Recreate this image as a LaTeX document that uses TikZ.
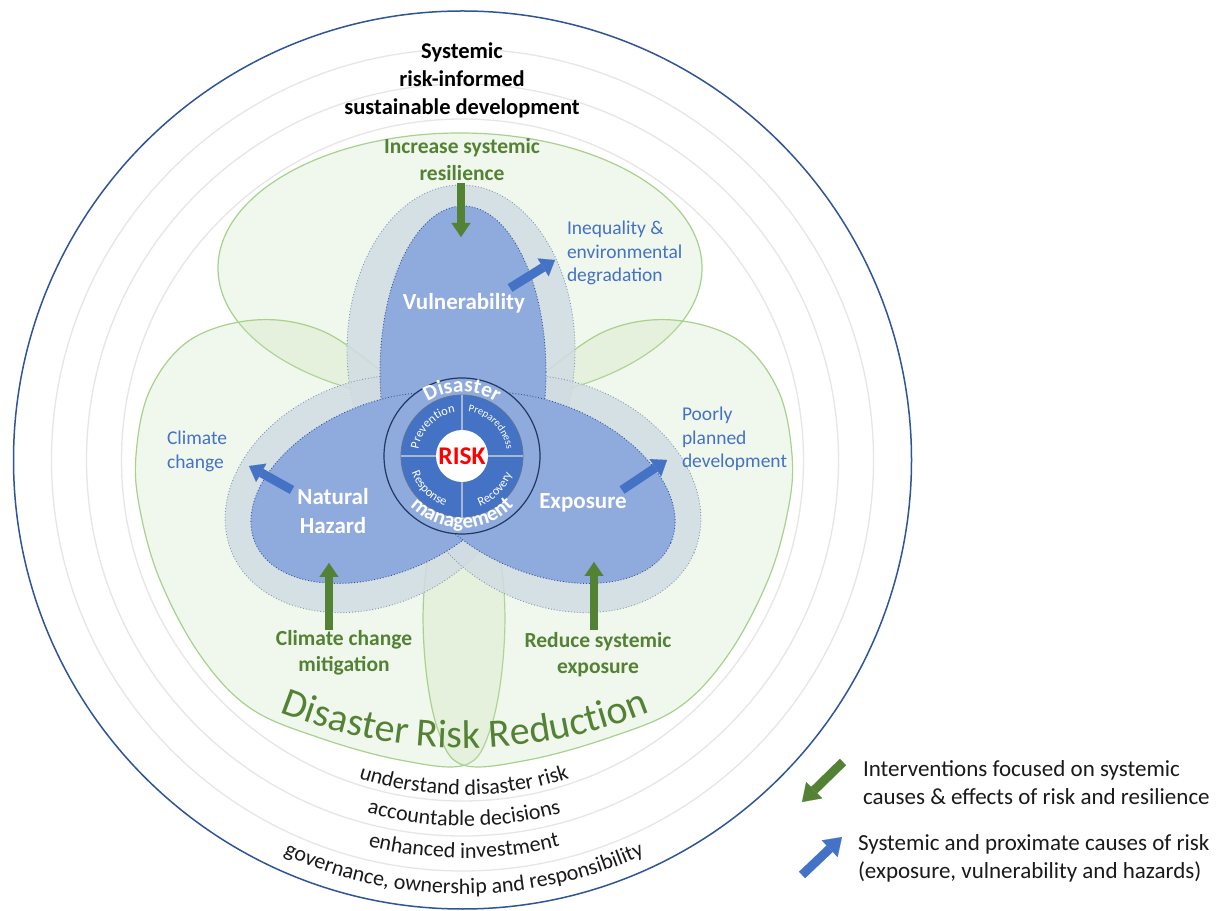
\documentclass[tikz,border=0pt]{standalone}
\usepackage{fontspec}
\setmainfont{Carlito}
\usetikzlibrary{arrows.meta,decorations.text,calc}
\definecolor{ringblue}{HTML}{2F5597}
\definecolor{ringgray}{HTML}{E6E6E6}
\definecolor{lobefill}{HTML}{C5E0B4}
\definecolor{lobeline}{HTML}{A9D18E}
\definecolor{slate}{HTML}{D0DCE2}
\definecolor{slateline}{HTML}{8497B0}
\definecolor{petal}{HTML}{8FAADC}
\definecolor{petalline}{HTML}{2F5597}
\definecolor{midblue}{HTML}{4472C4}
\definecolor{navy}{HTML}{203864}
\definecolor{dgreen}{HTML}{548235}
\definecolor{lblue}{HTML}{4472C4}
\definecolor{riskred}{HTML}{FF0000}
\definecolor{divider}{HTML}{A9B6CF}
\definecolor{darktext}{HTML}{1A1A1A}
\newcommand{\myfs}[2]{\fontsize{#1}{#2}\selectfont}
\begin{document}
\begin{tikzpicture}[x=1pt,y=1pt,
  lobe/.style={fill=lobefill, fill opacity=0.25, draw=lobeline, draw opacity=1, line width=1.2pt},
  slatesty/.style={fill=slate, fill opacity=0.85, draw=slateline, draw opacity=1, dotted, line width=0.9pt},
  petalsty/.style={fill=petal, draw=petalline, dotted, line width=0.9pt},
  greenarrow/.style={draw=dgreen, line width=7.5pt, -{Triangle[length=14pt,width=19pt,line width=0.1pt]}},
  bluearrow/.style={draw=lblue, line width=9pt, -{Triangle[length=14pt,width=21pt,line width=0.1pt]}},
  lbl/.style={inner sep=0pt, outer sep=0pt},
  bluelbl/.style={lbl, text=lblue, align=left, anchor=west, font=\myfs{19.5}{23.5}},
  whitelbl/.style={lbl, text=white, align=center, font=\bfseries\myfs{23}{29}},
  greenlbl/.style={lbl, text=dgreen, align=center, font=\bfseries\myfs{21.5}{26.5}},
  legendlbl/.style={lbl, text=darktext, align=left, anchor=west, font=\myfs{23}{28.5}}
]
\useasboundingbox (0,0) rectangle (1217,910);
\fill[white] (0,0) rectangle (1217,910);

% concentric rings
\coordinate (M) at (462.5,450);
\foreach \r in {341,376,411} \draw[ringgray, line width=1.3pt] (M) circle[radius=\r];
\draw[ringblue, line width=1.5pt] (M) circle[radius=449];

% green lobes
\path[lobe] (460,642) ellipse[x radius=242, y radius=135];
\path[lobe] plot[smooth cycle, tension=0.6] coordinates {(255,590) (320,580) (380,540) (440,490) (485,420) (503,330) (503,250) (490,180) (465,145) (400,150) (320,172) (250,202) (200,255) (160,330) (140,400) (136,455) (150,520) (190,570)};
\path[lobe, shift={(928,0)}, xscale=-1] plot[smooth cycle, tension=0.6] coordinates {(255,590) (320,580) (380,540) (440,490) (485,420) (503,330) (503,250) (490,180) (465,145) (400,150) (320,172) (250,202) (200,255) (160,330) (140,400) (136,455) (150,520) (190,570)};

% slate petals
\path[slatesty] (461,560) ellipse[x radius=114, y radius=165];
\path[slatesty, rotate around={23:(370,416)}] (370,416) ellipse[x radius=150, y radius=112];
\path[slatesty, rotate around={-23:(556,416)}] (556,416) ellipse[x radius=150, y radius=112];

% blue petals
\path[petalsty] (463,538) ellipse[x radius=83, y radius=166];
\path[petalsty, rotate around={23:(384,422)}] (384,422) ellipse[x radius=140, y radius=85];
\path[petalsty, rotate around={-23:(542,422)}] (542,422) ellipse[x radius=140, y radius=85];

% centre
\coordinate (C) at (462,454);
\filldraw[fill=petal, draw=navy, line width=1.2pt] (C) circle[radius=78];
\filldraw[fill=midblue, draw=navy!70, line width=0.8pt] (C) circle[radius=61];
\draw[divider, line width=2pt] ([shift={(0:61)}]C) -- ([shift={(180:61)}]C);
\draw[divider, line width=2pt] ([shift={(90:61)}]C) -- ([shift={(270:61)}]C);
\node[circle, fill=white, minimum size=52pt, inner sep=0pt, text=riskred, font=\bfseries\myfs{25.5}{25.5}] (risk) at (C) {RISK};

% curved texts in the centre
\path[decorate, decoration={text along path, text align=center, text color=white, text={|\bfseries\myfs{21.5}{21.5}|Disaster}}] ([shift={(160:64)}]C) arc[start angle=160, end angle=20, radius=64];
\path[decorate, decoration={text along path, text align=center, text color=white, text={|\bfseries\myfs{21}{21}|management}}] ([shift={(200:72)}]C) arc[start angle=200, end angle=340, radius=72];
\path[decorate, decoration={text along path, text align=center, text color=white, text={|\myfs{12.5}{12.5}|Prevention}}] ([shift={(180:44)}]C) arc[start angle=180, end angle=90, radius=44];
\path[decorate, decoration={text along path, text align=center, text color=white, text={|\myfs{10.5}{10.5}|Preparedness}}] ([shift={(90:45)}]C) arc[start angle=90, end angle=0, radius=45];
\path[decorate, decoration={text along path, text align=center, text color=white, text={|\myfs{12.5}{12.5}|Response}}] ([shift={(180:53)}]C) arc[start angle=180, end angle=270, radius=53];
\path[decorate, decoration={text along path, text align=center, text color=white, text={|\myfs{12.5}{12.5}|Recovery}}] ([shift={(270:53)}]C) arc[start angle=270, end angle=360, radius=53];

% Disaster Risk Reduction
\coordinate (D) at (465,660);
\path[decorate, decoration={text along path, text align=center, text color=dgreen, text={|\myfs{40}{40}|Disaster Risk Reduction}}] ([shift={(240:498)}]D) arc[start angle=240, end angle=300, radius=498];

% bottom ring texts
\coordinate (B) at (464,450);
\path[decorate, decoration={text along path, text align=center, text color=darktext, text={|\myfs{22}{22}|understand disaster risk}}] ([shift={(220:335)}]B) arc[start angle=220, end angle=320, radius=335];
\path[decorate, decoration={text along path, text align=center, text color=darktext, text={|\myfs{22}{22}|accountable decisions}}] ([shift={(220:366)}]B) arc[start angle=220, end angle=320, radius=366];
\path[decorate, decoration={text along path, text align=center, text color=darktext, text={|\myfs{22}{22}|enhanced investment}}] ([shift={(220:398)}]B) arc[start angle=220, end angle=320, radius=398];
\path[decorate, decoration={text along path, text align=center, text color=darktext, text={|\myfs{22}{22}|governance, ownership and responsibility}}] ([shift={(220:434)}]B) arc[start angle=220, end angle=320, radius=434];

% labels
\node[lbl, text=black, align=center, font=\bfseries\myfs{22.5}{28}] (title) at (462,830) {Systemic\\risk-informed\\sustainable development};
\node[greenlbl] (incr) at (462,750.5) {Increase systemic\\resilience};
\node[bluelbl] (ineq) at (567,657) {Inequality \&\\environmental\\degradation};
\node[whitelbl] (vuln) at (464,607) {Vulnerability};
\node[bluelbl] (clim) at (167,458.5) {Climate\\change};
\node[whitelbl] (nat) at (333,398.5) {Natural\\Hazard};
\node[bluelbl] (poor) at (682,471) {Poorly\\planned\\development};
\node[whitelbl] (expo) at (583,407) {Exposure};
\node[greenlbl] (mitig) at (344,257) {Climate change\\mitigation};
\node[greenlbl] (redu) at (598,255.5) {Reduce systemic\\exposure};
\node[legendlbl] (leg1) at (863,127.5) {Interventions focused on systemic\\causes \& effects of risk and resilience};
\node[legendlbl] (leg2) at (858,51.5) {Systemic and proximate causes of risk\\(exposure, vulnerability and hazards)};

% arrows
\coordinate (ga1) at (461,727); \coordinate (ga2) at (461,673);
\coordinate (ba1) at (510,622); \coordinate (ba2) at (555,650);
\coordinate (bh1) at (292,420); \coordinate (bh2) at (249,444);
\coordinate (be1) at (622,420); \coordinate (be2) at (667,450);
\coordinate (gh1) at (329,280); \coordinate (gh2) at (329,347);
\coordinate (ge1) at (594,280); \coordinate (ge2) at (594,348);
\coordinate (lg1) at (843,148); \coordinate (lg2) at (802,108);
\coordinate (lb1) at (802,35);  \coordinate (lb2) at (842,73);
\draw[greenarrow] (ga1) -- (ga2);
\draw[bluearrow] (ba1) -- (ba2);
\draw[bluearrow] (bh1) -- (bh2);
\draw[bluearrow] (be1) -- (be2);
\draw[greenarrow] (gh1) -- (gh2);
\draw[greenarrow] (ge1) -- (ge2);
\draw[greenarrow, line width=9pt, -{Triangle[length=17pt,width=23pt,line width=0.1pt]}] (lg1) -- (lg2);
\draw[bluearrow, line width=9pt, -{Triangle[length=17pt,width=23pt,line width=0.1pt]}] (lb1) -- (lb2);
\end{tikzpicture}
\end{document}
